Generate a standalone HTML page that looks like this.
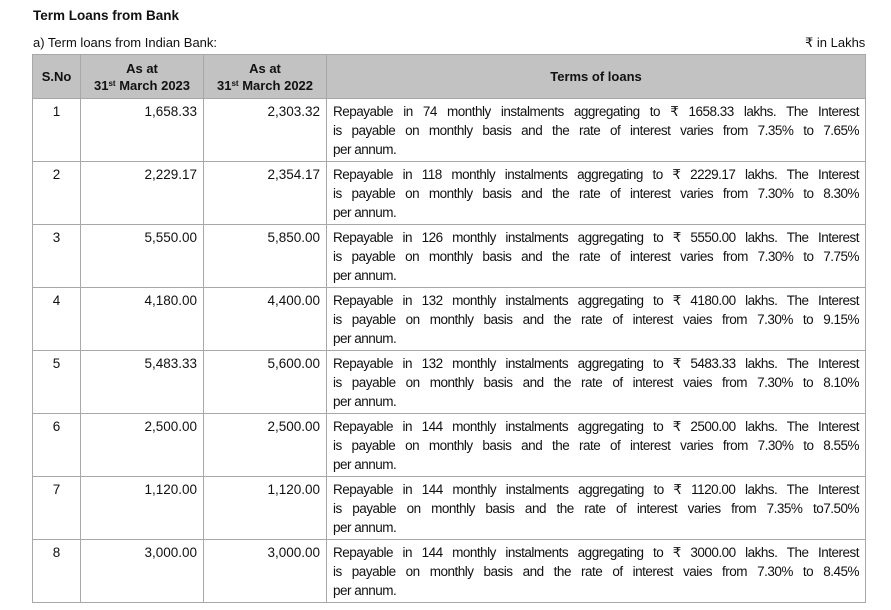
<!DOCTYPE html>
<html><head><meta charset="utf-8"><style>
body{margin:0;width:891px;height:610px;background:#fff;font-family:"Liberation Sans",sans-serif;color:#111;position:relative;overflow:hidden}
.a{position:absolute;white-space:nowrap}
.t{font-size:13px}
table{position:absolute;left:32px;top:54px;border-collapse:collapse;width:834px;table-layout:fixed}
td,th{border:1px solid #a8a8a8;font-size:13.5px;vertical-align:top;padding:0;box-sizing:border-box}
th{background:#c2c2c2;height:44px;vertical-align:middle;font-weight:bold;line-height:17px;text-align:center;font-size:13px}
td{height:63px;line-height:19px;padding-top:3px}
td.n{text-align:center}
td.r{text-align:right;padding-right:6px}
td.x{padding-left:6px;padding-right:6px}
td.x div{white-space:nowrap;text-align:justify;text-align-last:justify;letter-spacing:-0.5px}
td.x div.l{text-align-last:left}
sup{font-size:8px;vertical-align:4px;line-height:0}
</style></head><body>
<div class="a" style="left:33px;top:8px;font-size:13.5px;font-weight:bold">Term Loans from Bank</div>
<div class="a t" style="left:33px;top:35px">a) Term loans from Indian Bank:</div>
<div class="a t" style="left:805px;top:35px">₹ in Lakhs</div>
<table>
<colgroup><col style="width:48px"><col style="width:123px"><col style="width:123px"><col></colgroup>
<tr><th>S.No</th><th>As at<br>31<sup>st</sup> March 2023</th><th>As at<br>31<sup>st</sup> March 2022</th><th>Terms of loans</th></tr>
<tr><td class="n">1</td><td class="r">1,658.33</td><td class="r">2,303.32</td><td class="x"><div>Repayable in 74 monthly instalments aggregating to ₹ 1658.33 lakhs. The Interest</div><div>is payable on monthly basis and the rate of interest varies from 7.35% to 7.65%</div><div class="l">per annum.</div></td></tr>
<tr><td class="n">2</td><td class="r">2,229.17</td><td class="r">2,354.17</td><td class="x"><div>Repayable in 118 monthly instalments aggregating to ₹ 2229.17 lakhs. The Interest</div><div>is payable on monthly basis and the rate of interest varies from 7.30% to 8.30%</div><div class="l">per annum.</div></td></tr>
<tr><td class="n">3</td><td class="r">5,550.00</td><td class="r">5,850.00</td><td class="x"><div>Repayable in 126 monthly instalments aggregating to ₹ 5550.00 lakhs. The Interest</div><div>is payable on monthly basis and the rate of interest varies from 7.30% to 7.75%</div><div class="l">per annum.</div></td></tr>
<tr><td class="n">4</td><td class="r">4,180.00</td><td class="r">4,400.00</td><td class="x"><div>Repayable in 132 monthly instalments aggregating to ₹ 4180.00 lakhs. The Interest</div><div>is payable on monthly basis and the rate of interest vaies from 7.30% to 9.15%</div><div class="l">per annum.</div></td></tr>
<tr><td class="n">5</td><td class="r">5,483.33</td><td class="r">5,600.00</td><td class="x"><div>Repayable in 132 monthly instalments aggregating to ₹ 5483.33 lakhs. The Interest</div><div>is payable on monthly basis and the rate of interest vaies from 7.30% to 8.10%</div><div class="l">per annum.</div></td></tr>
<tr><td class="n">6</td><td class="r">2,500.00</td><td class="r">2,500.00</td><td class="x"><div>Repayable in 144 monthly instalments aggregating to ₹ 2500.00 lakhs. The Interest</div><div>is payable on monthly basis and the rate of interest varies from 7.30% to 8.55%</div><div class="l">per annum.</div></td></tr>
<tr><td class="n">7</td><td class="r">1,120.00</td><td class="r">1,120.00</td><td class="x"><div>Repayable in 144 monthly instalments aggregating to ₹ 1120.00 lakhs. The Interest</div><div>is payable on monthly basis and the rate of interest varies from 7.35% to7.50%</div><div class="l">per annum.</div></td></tr>
<tr><td class="n">8</td><td class="r">3,000.00</td><td class="r">3,000.00</td><td class="x"><div>Repayable in 144 monthly instalments aggregating to ₹ 3000.00 lakhs. The Interest</div><div>is payable on monthly basis and the rate of interest vaies from 7.30% to 8.45%</div><div class="l">per annum.</div></td></tr>
</table>
</body></html>
